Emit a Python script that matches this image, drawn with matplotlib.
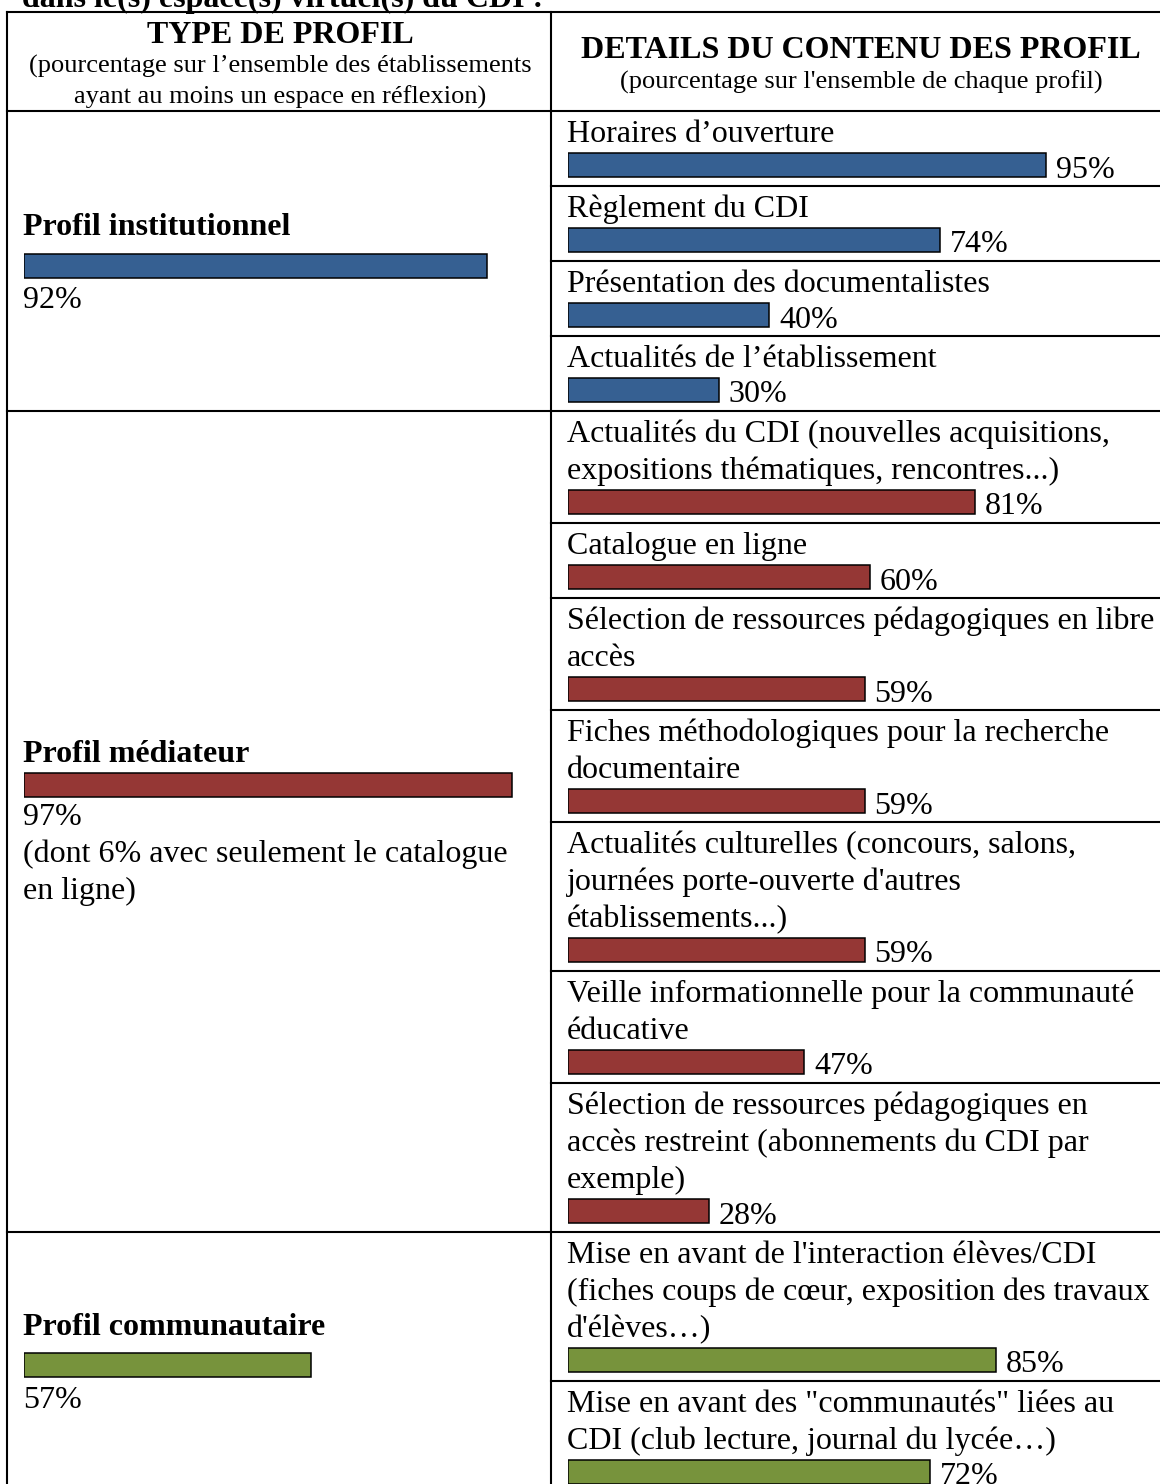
import matplotlib.pyplot as plt

plt.rcParams['font.family'] = ['Liberation Serif', 'DejaVu Serif']

# profile level values (share of schools with at least one virtual space)
profils = ["Profil institutionnel", "Profil médiateur", "Profil communautaire"]
profil_pct = [92, 97, 57]
profil_notes = [[], ["(dont 6% avec seulement le catalogue", "en ligne)"], []]

# detail of each profile content
inst_labels = [["Horaires d’ouverture"],
               ["Règlement du CDI"],
               ["Présentation des documentalistes"],
               ["Actualités de l’établissement"]]
inst_pct = [95, 74, 40, 30]

med_labels = [["Actualités du CDI (nouvelles acquisitions,", "expositions thématiques, rencontres...)"],
              ["Catalogue en ligne"],
              ["Sélection de ressources pédagogiques en libre", "accès"],
              ["Fiches méthodologiques pour la recherche", "documentaire"],
              ["Actualités culturelles (concours, salons,", "journées porte-ouverte d'autres", "établissements...)"],
              ["Veille informationnelle pour la communauté", "éducative"],
              ["Sélection de ressources pédagogiques en", "accès restreint (abonnements du CDI par", "exemple)"]]
med_pct = [81, 60, 59, 59, 59, 47, 28]

com_labels = [["Mise en avant de l'interaction élèves/CDI", "(fiches coups de cœur, exposition des travaux", "d'élèves…)"],
              ["Mise en avant des \"communautés\" liées au", "CDI (club lecture, journal du lycée…)"]]
com_pct = [85, 72]

colors = ["#366092", "#953735", "#77933C"]

W, H = 1160, 1484
fig = plt.figure(figsize=(W / 100, H / 100), dpi=100)
ax = fig.add_axes([0, 0, 1, 1])
ax.set_xlim(0, W)
ax.set_ylim(H, 0)
ax.axis('off')

# axes for bars, in percent
axl = fig.add_axes([24 / W, 0, 503 / W, 1])
axr = fig.add_axes([568 / W, 0, 503 / W, 1])
for a in (axl, axr):
    a.set_xlim(0, 100)
    a.set_ylim(H, 0)
    a.axis('off')
    a.patch.set_alpha(0)

fs = 23
fs_small = 19
lw = 1.5

# table frame
xl, xm, xr = 7, 551, 1175
ytop, yhead = 12, 111
ax.plot([xl, xr], [ytop, ytop], color='black', lw=lw)
ax.plot([xl, xr], [yhead, yhead], color='black', lw=lw)
ax.plot([xl, xl], [ytop, H + 5], color='black', lw=lw)
ax.plot([xm, xm], [ytop, H + 5], color='black', lw=lw)

# title (cut at top)
ax.text(22, 7, "dans le(s) espace(s) virtuel(s) du CDI :", fontsize=fs, fontweight='bold', va='baseline')

# header
ax.text(280, 43, "TYPE DE PROFIL", fontsize=fs, fontweight='bold', ha='center', va='baseline')
ax.text(280, 73, "(pourcentage sur l’ensemble des établissements", fontsize=fs_small, ha='center', va='baseline')
ax.text(280, 104, "ayant au moins un espace en réflexion)", fontsize=fs_small, ha='center', va='baseline')
ax.text(861, 58, "DETAILS DU CONTENU DES PROFIL", fontsize=fs, fontweight='bold', ha='center', va='baseline')
ax.text(861, 89, "(pourcentage sur l'ensemble de chaque profil)", fontsize=fs_small, ha='center', va='baseline')

# right column detail rows
sections = [(inst_labels, inst_pct), (med_labels, med_pct), (com_labels, com_pct)]
y0 = yhead
sec_tops = []
for k, (labels, vals) in enumerate(sections):
    sec_tops.append(y0)
    for i, (lines, v) in enumerate(zip(labels, vals)):
        if i > 0:
            ax.plot([xm, xr], [y0, y0], color='black', lw=lw)
        for j, line in enumerate(lines):
            ax.text(567, y0 + 31 + 37 * j, line, fontsize=fs, va='baseline')
        yb = y0 + 53.5 + 37 * (len(lines) - 1)
        axr.barh(yb, v, height=24, color=colors[k], edgecolor='black', linewidth=1.1)
        axr.annotate(f"{v}%", (v, yb + 13), xytext=(7, 0), textcoords='offset points',
                     fontsize=fs, va='baseline', annotation_clip=False)
        y0 += 38 + 37 * len(lines)
    if k < len(sections) - 1:
        ax.plot([xl, xr], [y0, y0], color='black', lw=lw)

# left column profile rows
title_base = [235, 762, 1335]
bar_center = [265.5, 784.5, 1364.5]
pct_base = [308, 825, 1408]
for k in range(len(profils)):
    ax.text(23, title_base[k], profils[k], fontsize=fs, fontweight='bold', va='baseline')
    axl.barh(bar_center[k], profil_pct[k], height=24, color=colors[k], edgecolor='black', linewidth=1.1)
    ax.text(23, pct_base[k], f"{profil_pct[k]}%", fontsize=fs, va='baseline')
    for j, note in enumerate(profil_notes[k]):
        ax.text(23, pct_base[k] + 37 * (j + 1), note, fontsize=fs, va='baseline')

fig.savefig("out.png", dpi=100)
